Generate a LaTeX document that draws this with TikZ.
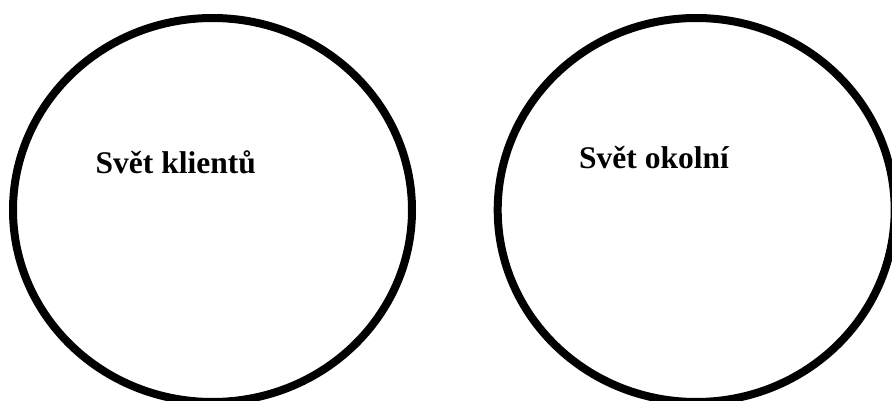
\documentclass[tikz,border=0pt]{standalone}
\usepackage{fontspec}
\setmainfont{Liberation Serif}
\usepackage{tikz}

\begin{document}
\begin{tikzpicture}[x=1pt, y=-1pt,
    world/.style={line width=8pt, draw=black},
    label/.style={anchor=base west, inner sep=0pt, font=\fontsize{31.5}{36}\selectfont\bfseries}]

    % Page frame
    \useasboundingbox (0,0) rectangle (892,401);
    \clip (0,0) rectangle (892,401);

    % Centres of the two worlds
    \coordinate (c1) at (212.5,210);
    \coordinate (c2) at (696.2,210);
    % Draw the two worlds
    \draw[world] (c1) ellipse [x radius=199.5pt, y radius=192pt];
    \draw[world] (c2) ellipse [x radius=198.5pt, y radius=192pt];

    % Names of the worlds
    \node[label] (klienti) at (95.5,174) {Svět klientů};
    \node[label] (okoli) at (579,169) {Svět okolní};
\end{tikzpicture}
\end{document}
